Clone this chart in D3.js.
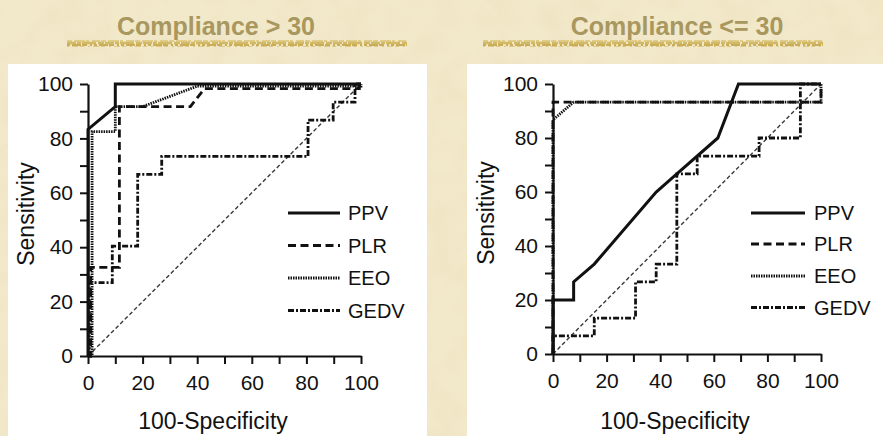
<!DOCTYPE html>
<html>
<head>
<meta charset="utf-8">
<script src="https://cdn.jsdelivr.net/npm/d3@7/dist/d3.min.js"></script>
<style>
  html, body { margin: 0; padding: 0; background: #f2e9cb; }
  svg { display: block; }
</style>
</head>
<body>
<svg id="chart" width="883" height="436"></svg>
<script>
// ROC curves of four predictors, split by respiratory compliance
const panelTitles = ["Compliance > 30", "Compliance <= 30"];
const seriesNames = ["PPV", "PLR", "EEO", "GEDV"];
const tickValues = [0, 10, 20, 30, 40, 50, 60, 70, 80, 90, 100];
const tickLabels = [0, 20, 40, 60, 80, 100];
const xTitle = "100-Specificity";
const yTitle = "Sensitivity";

// [100-specificity, sensitivity] points, compliance > 30
const highPPV  = [[0,0],[0,83.3],[10,91.7],[10,100],[100,100]];
const highPLR  = [[0,0],[1,0],[1,32.6],[11.5,32.6],[11.5,91.7],[37.5,91.7],[42.7,98.3],[99.4,98.3],[99.4,100],[100,100]];
const highEEO  = [[0,0],[1.5,0],[1.5,82.5],[10,82.5],[10,91.7],[20,91.7],[40,99.2],[100,99.2],[100,100]];
const highGEDV = [[0,0],[0.5,0],[0.5,27],[8.9,27],[8.9,40.4],[18.2,40.4],[18.2,66.8],[27,66.8],[27,73.4],[80.6,73.4],[80.6,86.7],[89.8,86.7],[89.8,93.3],[97.8,93.3],[97.8,100],[100,100]];

// [100-specificity, sensitivity] points, compliance <= 30
const lowPPV  = [[0,0],[0,20],[7.7,20],[7.7,26.7],[15.4,33.3],[38.5,60],[46.2,66.7],[61.5,80],[69.2,100],[100,100]];
const lowPLR  = [[0,0],[0,93.3],[100,93.3],[100,100]];
const lowEEO  = [[0,0],[0,86.7],[7.7,93.3],[100,93.3],[100,100]];
const lowGEDV = [[0,0],[0,6.7],[15.4,6.7],[15.4,13.3],[30.8,13.3],[30.8,26.7],[38.5,26.7],[38.5,33.3],[46.2,33.3],[46.2,66.7],[53.8,66.7],[53.8,73.3],[76.9,73.3],[76.9,80],[92.3,80],[92.3,100],[100,100]];

const referenceLine = [[0,0],[100,100]];

const styles = {
  PPV:  { dash: null,          width: 3 },
  PLR:  { dash: "8,4.5",       width: 2.8 },
  EEO:  { dash: "1.5,1",       width: 2.8 },
  GEDV: { dash: "6,2,2,2",     width: 2.8 }
};

const panels = [
  { title: panelTitles[0], series: [highPPV, highPLR, highEEO, highGEDV],
    frame: [8, 64, 419, 372], xr: [88, 361], yr: [356, 84], titleX: 216,
    legLine: [288, 340], legText: 348, legY: [213, 245.5, 278, 310.5],
    xTitleX: 213, yTitleX: 34, underline: [67, 407] },
  { title: panelTitles[1], series: [lowPPV, lowPLR, lowEEO, lowGEDV],
    frame: [467, 64, 416, 372], xr: [553, 821], yr: [354, 84], titleX: 677,
    legLine: [751, 805], legText: 814, legY: [213, 244, 276, 307.5],
    xTitleX: 675, yTitleX: 494, underline: [483, 823] }
];

const svg = d3.select("#chart");
const font = "'Liberation Sans', Arial, Helvetica, sans-serif";

// parchment texture
const defs = svg.append("defs");
const tex = defs.append("filter").attr("id", "paper").attr("x", 0).attr("y", 0).attr("width", "100%").attr("height", "100%");
tex.append("feTurbulence").attr("type", "fractalNoise").attr("baseFrequency", 0.035).attr("numOctaves", 3).attr("seed", 4).attr("result", "n");
tex.append("feColorMatrix").attr("in", "n").attr("type", "matrix")
  .attr("values", "0 0 0 0 0.80  0 0 0 0 0.70  0 0 0 0 0.42  0 0 0 0.7 -0.25");

svg.append("rect").attr("width", 883).attr("height", 436).attr("fill", "#f2e9cb");
svg.append("rect").attr("width", 883).attr("height", 436).attr("filter", "url(#paper)").attr("opacity", 0.7);

// brushed gold stroke built from broken strands
const strands = [
  { dy: -2, color: "#e0cd8a", w: 2, dash: "5,2,11,1,3,3,8,1" },
  { dy:  0, color: "#d2b965", w: 2.5, dash: "9,1,4,1,14,2,6,1" },
  { dy:  2, color: "#c9ad58", w: 2, dash: "3,2,9,1,5,3,2,2" },
  { dy:  3.5, color: "#ddc886", w: 1.2, dash: "2,3,6,2,4,4" }
];

panels.forEach(p => {
  const x = d3.scaleLinear().domain([0, 100]).range(p.xr);
  const y = d3.scaleLinear().domain([0, 100]).range(p.yr);

  // title and its underline
  const ul = svg.append("g");
  strands.forEach(s => {
    ul.append("line").attr("x1", p.underline[0]).attr("x2", p.underline[1])
      .attr("y1", 43 + s.dy).attr("y2", 43 + s.dy)
      .attr("stroke", s.color).attr("stroke-width", s.w).attr("stroke-dasharray", s.dash);
  });
  svg.append("text").attr("x", p.titleX).attr("y", 35).attr("text-anchor", "middle")
    .attr("font-family", font).attr("font-weight", "bold").attr("font-size", 25)
    .attr("fill", "#a8975e").text(p.title);

  // white plotting card
  svg.append("rect").attr("x", p.frame[0]).attr("y", p.frame[1]).attr("width", p.frame[2]).attr("height", p.frame[3]).attr("fill", "#ffffff");

  const line = d3.line().x(d => x(d[0])).y(d => y(d[1]));

  // chance diagonal
  svg.append("path").datum(referenceLine).attr("d", line).attr("fill", "none")
    .attr("stroke", "#3a3a3a").attr("stroke-width", 1.4).attr("stroke-dasharray", "4,2.5");

  // curves, solid last so it sits on top
  [3, 2, 1, 0].forEach(i => {
    const st = styles[seriesNames[i]];
    svg.append("path").datum(p.series[i]).attr("d", line).attr("fill", "none")
      .attr("stroke", "#111").attr("stroke-width", st.width)
      .attr("stroke-dasharray", st.dash).attr("stroke-linejoin", "miter");
  });

  // axes
  const fmt = d => tickLabels.includes(d) ? d : "";
  const xa = svg.append("g").attr("transform", `translate(0,${p.yr[0]})`)
    .call(d3.axisBottom(x).tickValues(tickValues).tickFormat(fmt).tickSize(8).tickSizeOuter(0).tickPadding(11));
  const ya = svg.append("g").attr("transform", `translate(${p.xr[0]},0)`)
    .call(d3.axisLeft(y).tickValues(tickValues).tickFormat(fmt).tickSize(8).tickSizeOuter(0).tickPadding(7));
  [xa, ya].forEach(a => {
    a.select(".domain").attr("stroke", "#111").attr("stroke-width", 2.2);
    a.selectAll(".tick line").attr("stroke", "#111").attr("stroke-width", 2);
    a.selectAll(".tick text").attr("font-family", font).attr("font-size", 21).attr("fill", "#111");
  });

  // axis titles
  svg.append("text").attr("x", p.xTitleX).attr("y", 429).attr("text-anchor", "middle")
    .attr("font-family", font).attr("font-size", 23).attr("fill", "#111").text(xTitle);
  svg.append("text").attr("transform", `translate(${p.yTitleX},${(p.yr[0] + p.yr[1]) / 2 - 6}) rotate(-90)`)
    .attr("text-anchor", "middle").attr("font-family", font).attr("font-size", 23).attr("fill", "#111").text(yTitle);

  // legend
  seriesNames.forEach((name, i) => {
    const st = styles[name];
    svg.append("line").attr("x1", p.legLine[0]).attr("x2", p.legLine[1])
      .attr("y1", p.legY[i]).attr("y2", p.legY[i])
      .attr("stroke", "#111").attr("stroke-width", st.width).attr("stroke-dasharray", st.dash);
    svg.append("text").attr("x", p.legText).attr("y", p.legY[i]).attr("dy", "0.36em")
      .attr("font-family", font).attr("font-size", 20).attr("fill", "#111").text(name);
  });
});
</script>
</body>
</html>
